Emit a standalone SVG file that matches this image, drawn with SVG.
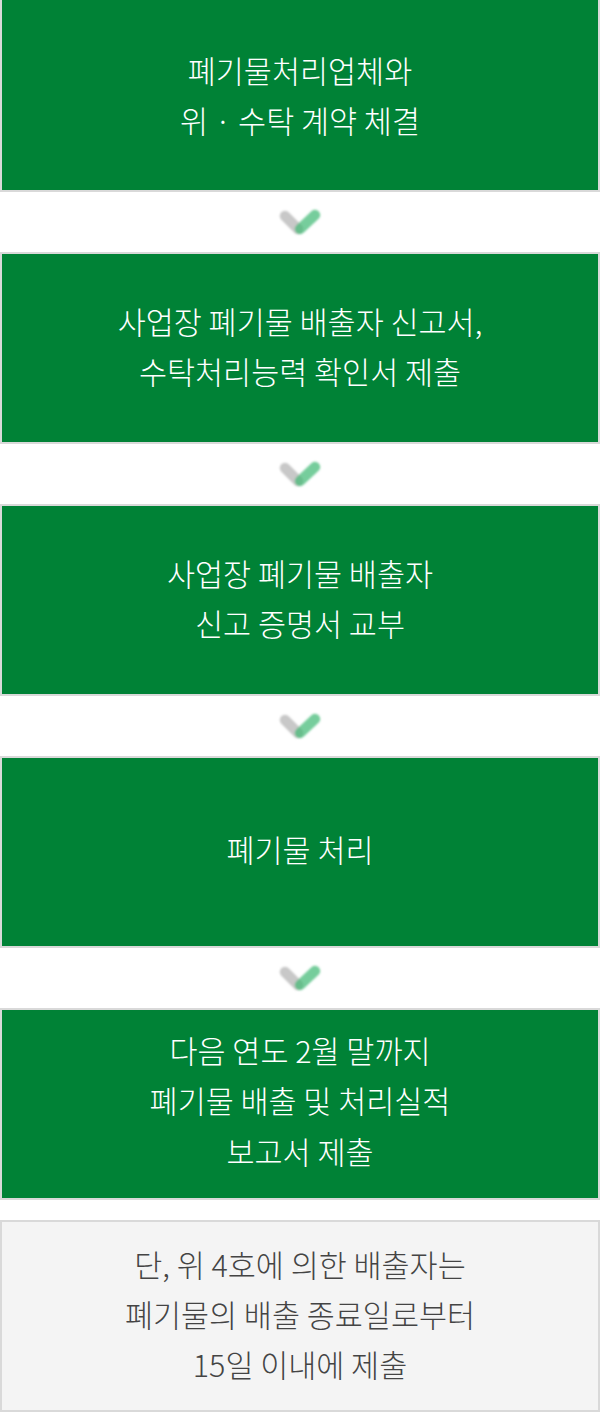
<svg xmlns="http://www.w3.org/2000/svg" width="600" height="1412" viewBox="0 0 600 1412">
<style>
.box{fill:#008236;stroke:#d9d9d9;stroke-width:2}
.note{fill:#f4f4f4;stroke:#d9d9d9;stroke-width:2}
.t{font-family:"Noto Sans CJK KR","Noto Sans",sans-serif;font-size:30.5px;font-weight:300;fill:#ffffff;text-anchor:middle}
.tn{fill:#444444}
.g{stroke:#c8c8c8;stroke-width:10.5;stroke-linecap:round;fill:none}
.k{stroke:#3db872;stroke-opacity:0.7;stroke-width:10.5;stroke-linecap:round;fill:none}
</style>
<defs>
<filter id="bl" x="-50%" y="-50%" width="200%" height="200%"><feGaussianBlur stdDeviation="0.9"/></filter>
<g id="chev">
<line class="g" x1="285" y1="216" x2="298" y2="229"/>
<line class="k" x1="300" y1="229" x2="315" y2="215"/>
</g>
</defs>
<rect width="600" height="1412" fill="#ffffff"/>
<g id="connectors" filter="url(#bl)">
<use href="#chev" y="0"/>
<use href="#chev" y="252"/>
<use href="#chev" y="504"/>
<use href="#chev" y="756"/>
</g>
<g id="step1">
<rect class="box" x="1" y="-1" width="598" height="192"/>
<text class="t" x="300" y="83">폐기물처리업체와</text>
<text class="t" x="300" y="133">위 · 수탁 계약 체결</text>
</g>
<g id="step2">
<rect class="box" x="1" y="253" width="598" height="190"/>
<text class="t" x="300" y="334">사업장 폐기물 배출자 신고서,</text>
<text class="t" x="300" y="384">수탁처리능력 확인서 제출</text>
</g>
<g id="step3">
<rect class="box" x="1" y="505" width="598" height="190"/>
<text class="t" x="300" y="586">사업장 폐기물 배출자</text>
<text class="t" x="300" y="636">신고 증명서 교부</text>
</g>
<g id="step4">
<rect class="box" x="1" y="757" width="598" height="190"/>
<text class="t" x="300" y="862">폐기물 처리</text>
</g>
<g id="step5">
<rect class="box" x="1" y="1009" width="598" height="190"/>
<text class="t" x="300" y="1063">다음 연도 2월 말까지</text>
<text class="t" x="300" y="1113">폐기물 배출 및 처리실적</text>
<text class="t" x="300" y="1164">보고서 제출</text>
</g>
<g id="note">
<rect class="note" x="1" y="1221" width="598" height="190"/>
<text class="t tn" x="300" y="1277">단, 위 4호에 의한 배출자는</text>
<text class="t tn" x="300" y="1327">폐기물의 배출 종료일로부터</text>
<text class="t tn" x="300" y="1377">15일 이내에 제출</text>
</g>
</svg>
